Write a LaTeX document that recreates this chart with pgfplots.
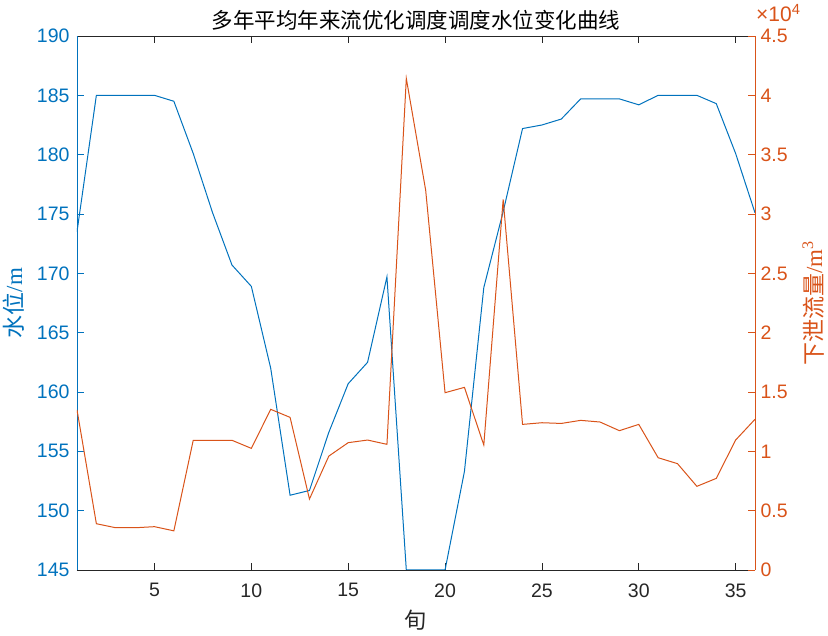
\documentclass[border=0pt]{standalone}
\usepackage{pgfplots}
\pgfplotsset{compat=1.18}
\usepackage{fontspec}
\setmainfont{Liberation Sans}
\newfontfamily\cjk{Noto Sans CJK SC}
\newfontfamily\tnr{Liberation Serif}
\definecolor{mblue}{RGB}{0,114,189}
\definecolor{morange}{RGB}{217,83,25}
\definecolor{mgray}{RGB}{38,38,38}

\pgfplotstableread{
x h
1 173.5
2 185.0
3 185.0
4 185.0
5 185.0
6 184.5
7 180.1
8 175.1
9 170.7
10 168.9
11 162.0
12 151.3
13 151.7
14 156.6
15 160.7
16 162.5
17 169.7
18 145.0
19 145.0
20 145.0
21 153.3
22 168.8
23 175.2
24 182.2
25 182.5
26 183.0
27 184.7
28 184.7
29 184.7
30 184.2
31 185.0
32 185.0
33 185.0
34 184.3
35 180.1
36 175.1
}\level

\pgfplotstableread{
x q
1 13500
2 3900
3 3560
4 3560
5 3650
6 3300
7 10930
8 10930
9 10930
10 10250
11 13540
12 12860
13 5980
14 9600
15 10730
16 10950
17 10590
18 41420
19 32000
20 14940
21 15390
22 10530
23 31230
24 12270
25 12410
26 12350
27 12610
28 12470
29 11740
30 12270
31 9460
32 8960
33 7050
34 7720
35 10950
36 12700
}\flow

\begin{document}
\begin{tikzpicture}
\pgfplotsset{every axis/.append style={
  scale only axis, width=678pt, height=534pt,
  xmin=1, xmax=36,
  tick align=inside, major tick length=7pt,
  /pgf/number format/assume math mode=true,
  tick label style={font=\fontsize{19.5}{20}\selectfont},
}}
\begin{axis}[
  axis x line*=box, axis y line*=left,
  x axis line style={mgray, line width=0.8pt, -},
  y axis line style={mblue, line width=0.8pt, -},
  xtick={5,10,...,35},
  x tick style={mgray, line width=0.8pt},
  y tick style={mblue, line width=0.8pt},
  xticklabel style={text=mgray, yshift=-10pt},
  yticklabel style={text=mblue, xshift=-4pt},
  ymin=145, ymax=190, ytick={145,150,...,190},
  title={\cjk\fontsize{21.5}{22}\selectfont 多年平均年来流优化调度调度水位变化曲线},
  title style={text=black, yshift=-4pt},
  xlabel={\cjk\fontsize{22}{22}\selectfont 旬},
  xlabel style={text=mgray, yshift=-6pt},
  ylabel={\fontsize{23}{23}\selectfont{\cjk 水位}{\tnr /m}},
  ylabel style={text=mblue, yshift=6pt},
]
\addplot[mblue, line width=1pt] table[x=x, y=h] {\level};
\coordinate (O) at (rel axis cs:0,0);
\coordinate (TR) at (rel axis cs:1,1);
\end{axis}
\begin{axis}[
  axis x line=none, axis y line*=right,
  y axis line style={morange, line width=0.8pt, -},
  y tick style={morange, line width=0.8pt},
  yticklabel style={text=morange, xshift=2pt},
  ymin=0, ymax=4.5, ytick={0,0.5,...,4.5},
  y filter/.expression={y/10000},
  ylabel={\fontsize{23}{23}\selectfont{\cjk 下泄流量}{\tnr /m\textsuperscript{3}}},
  ylabel style={text=morange, yshift=-8pt},
]
\addplot[morange, line width=1pt] table[x=x, y=q] {\flow};
\end{axis}
\node[anchor=base west, text=morange, font=\fontsize{21}{21}\selectfont, inner sep=0pt] at ([shift={(1pt,14pt)}]TR) {×10\textsuperscript{4}};
\pgfresetboundingbox
\path[use as bounding box] ([shift={(-77pt,-66pt)}]O) rectangle ++(828pt,636pt);
\end{tikzpicture}
\end{document}
